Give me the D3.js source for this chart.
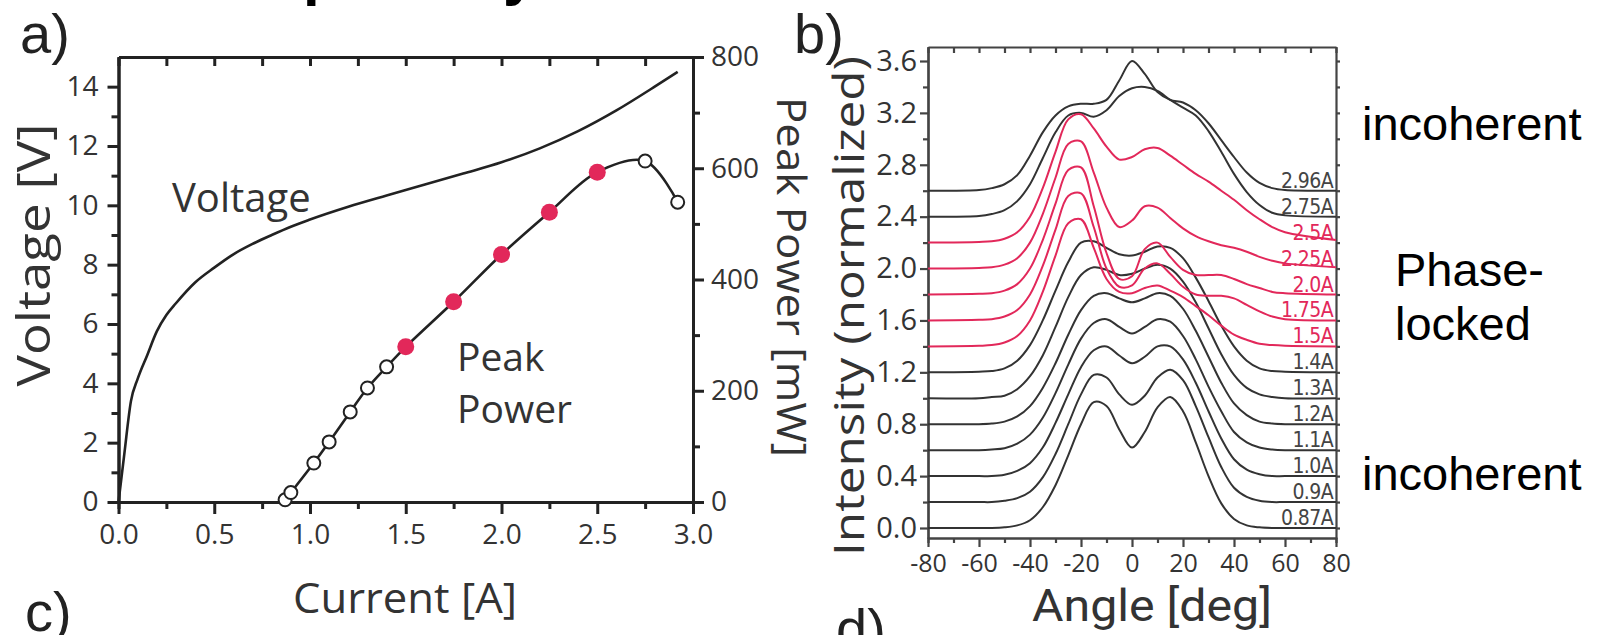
<!DOCTYPE html>
<html><head><meta charset="utf-8">
<script src="https://cdn.jsdelivr.net/npm/d3@7"></script>
<style>body{margin:0;background:#fff}svg{display:block}</style>
</head><body>
<svg id="chart" width="1602" height="635"></svg>
<script>
// ---------- Panel a data ----------
const currentV = [0,0.03,0.065,0.1,0.15,0.2,0.25,0.3,0.4,0.5,0.6,0.7,0.8,0.9,1.0,1.2,1.4,1.6,1.8,2.0,2.2,2.4,2.6,2.8,2.92];
const voltage  = [0,1.6,3.4,4.15,4.95,5.75,6.3,6.7,7.4,7.9,8.35,8.7,9.0,9.28,9.52,9.95,10.33,10.7,11.07,11.45,11.92,12.5,13.2,14.0,14.5];
const currentP = [0.87,0.9,1.02,1.1,1.21,1.3,1.4,1.5,1.75,2.0,2.25,2.5,2.75,2.92];
const peakPower = [4,17,70,108,162,205,243,279,360,445,521,593,613,539];
const lockedCurrents = [1.5,1.75,2.0,2.25,2.5];
const currentTicks = [0,0.5,1.0,1.5,2.0,2.5,3.0];
const voltageTicks = [0,2,4,6,8,10,12,14];
const powerTicks = [0,200,400,600,800];

// ---------- Panel b data ----------
const angles = [-80,-60,-55,-50,-45,-40,-35,-30,-25,-20,-15,-10,-5,0,5,10,15,20,25,30,35,40,45,50,55,60,80];
const profileLabels  = ["0.87A","0.9A","1.0A","1.1A","1.2A","1.3A","1.4A","1.5A","1.75A","2.0A","2.25A","2.5A","2.75A","2.96A"];
const profileOffsets = [0,0.2,0.4,0.6,0.8,1.0,1.2,1.4,1.6,1.8,2.0,2.2,2.4,2.6];
const profileLocked  = [false,false,false,false,false,false,false,true,true,true,true,true,false,false];
const p087 = [0,0,0,0.005,0.02,0.06,0.16,0.33,0.56,0.8,0.97,0.94,0.76,0.62,0.74,0.93,1.01,0.9,0.66,0.4,0.19,0.07,0.02,0.005,0,0,0];
const p090 = [0,0,0,0.01,0.03,0.08,0.19,0.37,0.6,0.83,0.98,0.96,0.83,0.75,0.82,0.96,1.02,0.94,0.74,0.5,0.27,0.11,0.04,0.01,0,0,0];
const p100 = [0,0,0,0.01,0.04,0.1,0.22,0.41,0.63,0.84,0.97,1.0,0.93,0.87,0.92,1.0,1.0,0.9,0.72,0.5,0.29,0.13,0.05,0.015,0,0,0];
const p110 = [0,0,0.005,0.015,0.05,0.12,0.25,0.44,0.66,0.86,0.98,1.01,0.95,0.9,0.95,1.01,0.99,0.88,0.7,0.49,0.3,0.14,0.06,0.02,0.005,0,0];
const p120 = [0,0,0.005,0.02,0.06,0.14,0.28,0.47,0.69,0.88,0.99,1.01,0.97,0.94,0.97,1.01,0.99,0.89,0.72,0.52,0.32,0.16,0.07,0.02,0.005,0,0];
const p130 = [0,0,0.01,0.02,0.07,0.17,0.33,0.55,0.78,0.95,1.01,0.99,0.95,0.96,1.0,1.03,1.0,0.9,0.74,0.54,0.34,0.18,0.08,0.03,0.01,0,0];
const p140 = [0,0.005,0.01,0.03,0.09,0.21,0.4,0.63,0.85,1.0,1.01,0.96,0.91,0.9,0.93,0.97,0.96,0.88,0.73,0.55,0.36,0.2,0.09,0.03,0.01,0.005,0];
const p150 = [0,0.005,0.01,0.03,0.08,0.2,0.42,0.7,0.95,0.98,0.76,0.52,0.42,0.41,0.45,0.47,0.43,0.38,0.31,0.24,0.16,0.09,0.05,0.02,0.01,0.005,0];
const p175 = [0,0.005,0.01,0.03,0.08,0.2,0.42,0.7,0.96,0.98,0.72,0.4,0.26,0.27,0.4,0.44,0.36,0.26,0.2,0.19,0.19,0.17,0.12,0.07,0.03,0.01,0];
const p200 = [0,0.005,0.01,0.03,0.08,0.2,0.42,0.7,0.96,0.98,0.68,0.32,0.12,0.14,0.35,0.4,0.29,0.19,0.15,0.15,0.15,0.12,0.08,0.05,0.02,0.01,0];
const p225 = [0,0.005,0.01,0.03,0.08,0.2,0.42,0.7,0.96,0.98,0.74,0.47,0.32,0.37,0.48,0.47,0.39,0.31,0.25,0.21,0.18,0.16,0.13,0.09,0.06,0.04,0.01];
const p250 = [0,0.005,0.01,0.03,0.08,0.2,0.42,0.7,0.95,0.99,0.88,0.74,0.64,0.66,0.72,0.73,0.67,0.6,0.53,0.47,0.4,0.33,0.25,0.18,0.12,0.08,0.02];
const p275 = [0,0.005,0.02,0.05,0.12,0.25,0.45,0.65,0.78,0.8,0.77,0.82,0.93,0.99,1.0,0.97,0.9,0.84,0.78,0.66,0.5,0.33,0.19,0.09,0.03,0.01,0];
const p296 = [0,0.005,0.02,0.05,0.12,0.27,0.45,0.58,0.65,0.67,0.67,0.7,0.85,1.0,0.9,0.76,0.7,0.68,0.62,0.52,0.39,0.26,0.14,0.06,0.02,0.005,0];
const profiles = [p087,p090,p100,p110,p120,p130,p140,p150,p175,p200,p225,p250,p275,p296];
const angleTicks = [-80,-60,-40,-20,0,20,40,60,80];
const intensityTicks = [0,0.4,0.8,1.2,1.6,2.0,2.4,2.8,3.2,3.6];

// ---------- drawing ----------
const svg = d3.select("#chart");
const RED = "#e2285a", INK = "#222", FONT = "Open Sans";

function styleAxis(g, color, w, fs){
  g.select(".domain").attr("stroke", color).attr("stroke-width", w);
  g.selectAll(".tick line").attr("stroke", color).attr("stroke-width", w);
  if (fs) g.selectAll(".tick text").attr("font-family", FONT).attr("font-size", fs).attr("fill", "#333");
  else g.selectAll(".tick text").remove();
}

// Panel a scales
const xA = d3.scaleLinear().domain([0,3]).range([118.5,693]);
const yV = d3.scaleLinear().domain([0,15]).range([502,57]);
const yP = d3.scaleLinear().domain([0,800]).range([502,57]);
const minorCurrent = d3.range(0.25,3,0.5);
const allCurrent = d3.range(0,3.01,0.25);

const ga = svg.append("g");
styleAxis(ga.append("g").attr("transform","translate(0,57)")
  .call(d3.axisTop(xA).tickValues(allCurrent).tickSizeInner(-9).tickSizeOuter(0).tickFormat("")), INK, 3, 0);
styleAxis(ga.append("g").attr("transform","translate(0,502)")
  .call(d3.axisBottom(xA).tickValues(minorCurrent).tickSize(7).tickFormat("")), INK, 3, 0);
styleAxis(ga.append("g").attr("transform","translate(0,502)")
  .call(d3.axisBottom(xA).tickValues(currentTicks).tickSize(12).tickPadding(10).tickSizeOuter(0).tickFormat(d3.format(".1f"))), INK, 3, 28);
styleAxis(ga.append("g").attr("transform","translate(118.5,0)")
  .call(d3.axisLeft(yV).tickValues(d3.range(1,15,2)).tickSize(7).tickSizeOuter(0).tickFormat("")), INK, 3, 0);
styleAxis(ga.append("g").attr("transform","translate(118.5,0)")
  .call(d3.axisLeft(yV).tickValues(voltageTicks).tickSize(11).tickPadding(9).tickSizeOuter(0)), INK, 3, 28);
styleAxis(ga.append("g").attr("transform","translate(693,0)")
  .call(d3.axisRight(yP).tickValues(d3.range(100,800,200)).tickSize(7).tickSizeOuter(0).tickFormat("")), INK, 3, 0);
styleAxis(ga.append("g").attr("transform","translate(693,0)")
  .call(d3.axisRight(yP).tickValues(powerTicks).tickSize(11).tickPadding(7).tickSizeOuter(0)), INK, 3, 28);

// Voltage curve
const vLine = d3.line().x(d=>xA(d[0])).y(d=>yV(d[1])).curve(d3.curveMonotoneX);
ga.append("path").datum(currentV.map((c,i)=>[c,voltage[i]]))
  .attr("d", vLine).attr("fill","none").attr("stroke",INK).attr("stroke-width",2.6);

// Peak power curve
const pts = currentP.map((c,i)=>[c,peakPower[i]]);
const pLine = d3.line().x(d=>xA(d[0])).y(d=>yP(d[1])).curve(d3.curveCatmullRom.alpha(0.5));
ga.append("path").datum(pts).attr("d", pLine).attr("fill","none").attr("stroke",INK).attr("stroke-width",2.6);
ga.selectAll("circle.pp").data(pts).join("circle")
  .attr("cx", d=>xA(d[0])).attr("cy", d=>yP(d[1]))
  .attr("r", d=> lockedCurrents.includes(d[0]) ? 8.5 : 6.5)
  .attr("fill", d=> lockedCurrents.includes(d[0]) ? RED : "#fff")
  .attr("stroke", d=> lockedCurrents.includes(d[0]) ? "none" : INK)
  .attr("stroke-width", 2);

// Panel a texts
ga.append("text").attr("x",172).attr("y",212).attr("font-family",FONT).attr("font-size",40).attr("fill","#333").text("Voltage");
ga.append("text").attr("x",457).attr("y",371).attr("font-family",FONT).attr("font-size",39).attr("fill","#333").text("Peak");
ga.append("text").attr("x",457).attr("y",423).attr("font-family",FONT).attr("font-size",39).attr("fill","#333").text("Power");
ga.append("text").attr("transform","translate(50,255) rotate(-90)").attr("text-anchor","middle")
  .attr("font-family",FONT).attr("font-size",45).attr("fill","#333").attr("textLength",263).attr("lengthAdjust","spacingAndGlyphs").text("Voltage [V]");
ga.append("text").attr("transform","translate(777,277) rotate(90)").attr("text-anchor","middle")
  .attr("font-family",FONT).attr("font-size",40).attr("fill","#333").attr("textLength",360).attr("lengthAdjust","spacingAndGlyphs").text("Peak Power [mW]");
ga.append("text").attr("x",405).attr("y",613).attr("text-anchor","middle")
  .attr("font-family",FONT).attr("font-size",42).attr("fill","#333").attr("textLength",224).attr("lengthAdjust","spacingAndGlyphs").text("Current [A]");

// Panel letters and title fragments
const letter = (t,x,y)=>svg.append("text").attr("x",x).attr("y",y).attr("font-family","Liberation Sans").attr("font-size",56).attr("fill","#222").text(t);
letter("a)",20,53); letter("b)",794,53); letter("c)",25,631); letter("d)",836,648);
svg.append("text").attr("x",303).attr("y",-6).attr("font-family","Liberation Sans").attr("font-weight","bold").attr("font-size",60).text("p");
svg.append("text").attr("x",503).attr("y",-6).attr("font-family","Liberation Sans").attr("font-weight","bold").attr("font-size",60).text("y");

// Panel b scales
const xB = d3.scaleLinear().domain([-80,80]).range([928,1336]);
const yB = d3.scaleLinear().domain([0,3.6]).range([528,61]);
const bTop = yB(3.708), bBot = yB(-0.077);
const gb = svg.append("g");
const FR = "#444";
styleAxis(gb.append("g").attr("transform",`translate(0,${bTop})`)
  .call(d3.axisTop(xB).tickValues(d3.range(-80,81,10)).tickSizeInner(-6).tickSizeOuter(0).tickFormat("")), FR, 2.2, 0);
styleAxis(gb.append("g").attr("transform",`translate(0,${bBot})`)
  .call(d3.axisBottom(xB).tickValues(d3.range(-70,71,20)).tickSize(5).tickFormat("")), FR, 2.2, 0);
styleAxis(gb.append("g").attr("transform",`translate(0,${bBot})`)
  .call(d3.axisBottom(xB).tickValues(angleTicks).tickSize(9).tickPadding(7).tickSizeOuter(0).tickFormat(d=>String(d))), FR, 2.2, 25);
const yBframe = d3.scaleLinear().domain([-0.077,3.708]).range([bBot,bTop]);
styleAxis(gb.append("g").attr("transform","translate(928,0)")
  .call(d3.axisLeft(yBframe).tickValues(d3.range(0.2,3.7,0.4)).tickSize(5).tickSizeOuter(0).tickFormat("")), FR, 2.2, 0);
styleAxis(gb.append("g").attr("transform","translate(928,0)")
  .call(d3.axisLeft(yBframe).tickValues(intensityTicks).tickSize(8).tickPadding(3).tickSizeOuter(0).tickFormat(d3.format(".1f"))), FR, 2.2, 29);
styleAxis(gb.append("g").attr("transform","translate(1336,0)")
  .call(d3.axisRight(yBframe).tickValues(d3.range(0,3.61,0.2)).tickSize(4).tickSizeOuter(0).tickFormat("")), FR, 2.2, 0);

// profiles
const bLine = d3.line().x(d=>xB(d[0])).y(d=>yB(d[1])).curve(d3.curveCatmullRom.alpha(0.5));
const order = d3.range(profiles.length).sort((a,b)=>(profileLocked[a]-profileLocked[b]));
order.forEach(i=>{
  const data = angles.map((a,j)=>[a, profileOffsets[i]+profiles[i][j]]);
  gb.append("path").datum(data).attr("d",bLine).attr("fill","none")
    .attr("stroke", profileLocked[i] ? RED : "#333").attr("stroke-width",2);
});
profileLabels.forEach((t,i)=>{
  gb.append("text").attr("x",1333).attr("y",yB(profileOffsets[i])-3).attr("text-anchor","end")
    .attr("font-family","DejaVu Sans Condensed").attr("font-size",21).attr("letter-spacing",-0.6)
    .attr("fill", profileLocked[i] ? RED : "#444").text(t);
});

gb.append("text").attr("transform","translate(864,306) rotate(-90)").attr("text-anchor","middle")
  .attr("font-family",FONT).attr("font-size",42).attr("fill","#333").attr("textLength",500).attr("lengthAdjust","spacingAndGlyphs").text("Intensity (normalized)");
gb.append("text").attr("x",1152).attr("y",621).attr("text-anchor","middle")
  .attr("font-family","Roboto").attr("font-size",44).attr("fill","#333").attr("textLength",240).attr("lengthAdjust","spacingAndGlyphs").text("Angle [deg]");

// right-side annotations
const note = (t,x,y)=>svg.append("text").attr("x",x).attr("y",y).attr("font-family","Liberation Sans").attr("font-size",47).attr("fill","#000").text(t);
note("incoherent",1362,140); note("Phase-",1395,286); note("locked",1395,340); note("incoherent",1362,490);
</script>
</body></html>
